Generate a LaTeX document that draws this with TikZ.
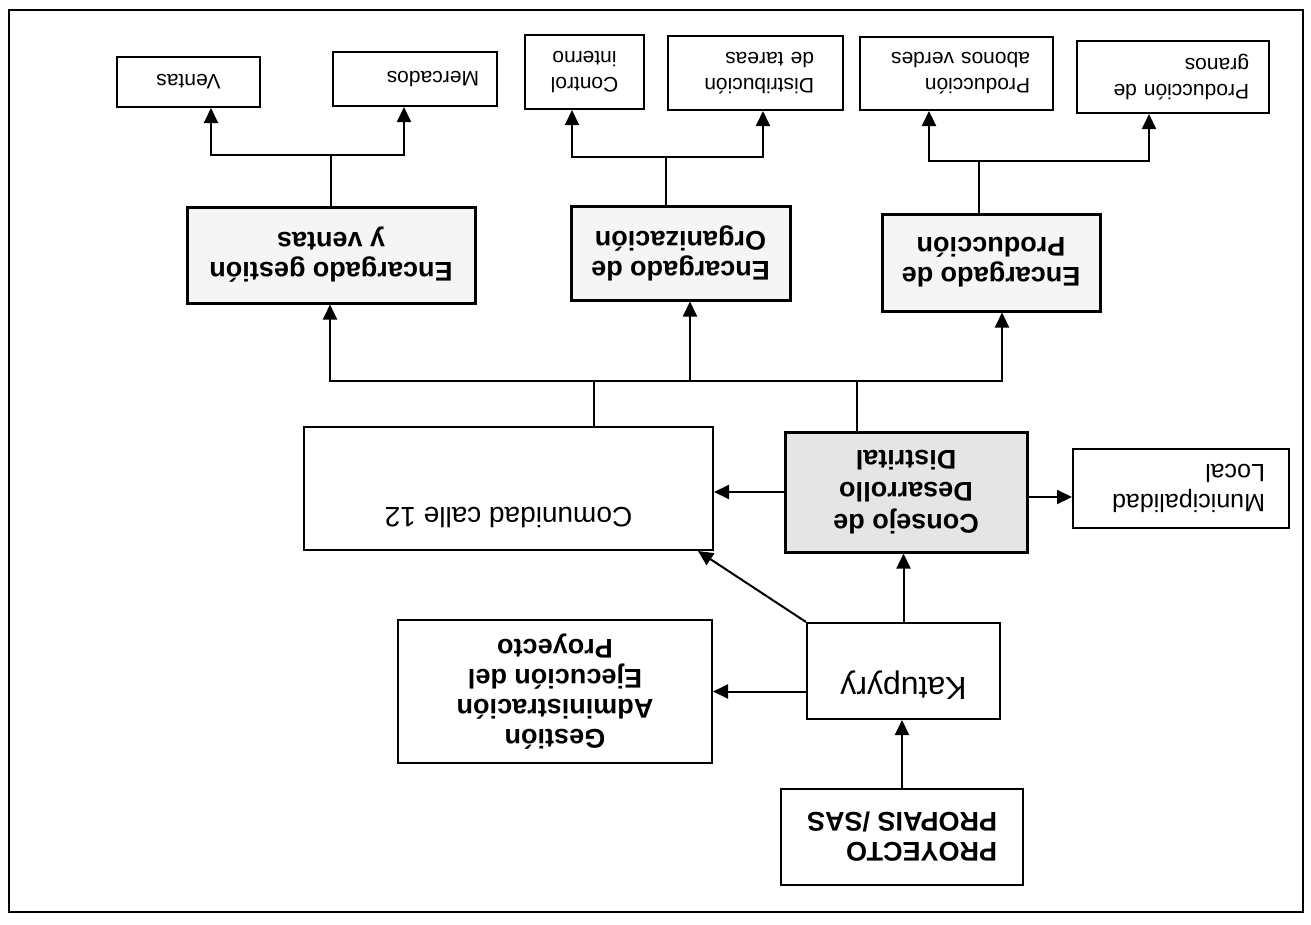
\documentclass[tikz,border=0pt]{standalone}
\usepackage{fontspec}
\setmainfont{Liberation Sans}
\usetikzlibrary{arrows.meta,calc}
\begin{document}
\begin{tikzpicture}[x=1pt,y=-1pt,
  box/.style={draw, line width=2pt, fill=white, inner sep=0pt},
  boldbox/.style={box, line width=3pt, fill=black!4},
  sz/.style 2 args={minimum width=#1pt, minimum height=#2pt},
  small/.style={font=\fontsize{21}{26}\selectfont},
  bigbold/.style={font=\bfseries\fontsize{27}{30}\selectfont},
  conn/.style={line width=2pt},
  arr/.style={conn, -{Triangle[length=15pt,width=14pt]}},
]
\useasboundingbox (0,0) rectangle (1311,924);
\draw[line width=2pt] (9,10) rectangle (1303,912);
\begin{scope}[rotate around={180:(655.5,462)}, transform shape]
% top level
\node[box, sz={242}{96}, bigbold, align=left] (proyecto) at (409,87) {PROYECTO\\PROPAIS /SAS};
\node[box, sz={193}{96}, font=\fontsize{32}{36}\selectfont, text height=22pt, text depth=34pt] (katupyry) at (407.5,253) {Katupyry};
\node[box, sz={314}{143}, bigbold, align=center] (gestion) at (756,232.5) {Gestión\\Administración\\Ejecución del\\Proyecto};
% middle
\node[boldbox, fill=black!10, sz={242}{120}, font=\bfseries\fontsize{27}{32}\selectfont, align=center] (consejo) at (405,432) {Consejo de\\Desarrollo\\Distrital};
\node[box, sz={409}{123}, font=\fontsize{28}{30}\selectfont, text height=20pt, text depth=57pt] (comunidad) at (802.5,435.5) {Comunidad calle 12};
\node[box, sz={216}{79}, font=\fontsize{25}{30}\selectfont, text width=168pt, align=left] (muni) at (130,435.5) {Municipalidad\\Local};
% encargados
\node[boldbox, sz={288}{96}, bigbold, align=center] (eg) at (980,669) {Encargado gestión\\y ventas};
\node[boldbox, sz={219}{94}, bigbold, align=center] (eo) at (630.5,671) {Encargado de\\Organización};
\node[boldbox, sz={218}{97}, bigbold, align=center] (ep) at (320,661.5) {Encargado de\\Producción};
% leaves
\node[box, sz={143}{50}, small] (ventas) at (1122.5,842) {Ventas};
\node[box, sz={164}{54}, small, text width=128pt, align=left] (mercados) at (896,845) {Mercados};
\node[box, sz={119}{74}, small, align=center] (control) at (726.5,852) {Control\\interno};
\node[box, sz={175}{74}, small, text width=117pt, align=left] (distrib) at (555.5,851) {Distribución\\de tareas};
\node[box, sz={193}{73}, small, text width=147pt, align=left] (abonos) at (354.5,850.5) {Producción\\abonos verdes};
\node[box, sz={192}{72}, small, text width=152pt, align=left] (granos) at (138,847) {Producción de\\granos};
% connectors
\draw[arr] (proyecto.south) -- (proyecto.south |- katupyry.north);
\draw[arr] (katupyry.east |- gestion.west) -- (gestion.west);
\draw[arr] (katupyry.south) -- (katupyry.south |- consejo.north);
\draw[arr] (katupyry.south east) -- ($(comunidad.north west)+(16,0)$);
\draw[arr] (consejo.east) -- (consejo.east -| comunidad.west);
\coordinate (cm) at ($(consejo.west)+(0,-5)$);
\draw[arr] (cm) -- (cm -| muni.east);
% bus to encargados
\coordinate (b1) at (717,543);
\coordinate (b2) at (454,543);
\coordinate (b3) at (981,543);
\coordinate (b4) at (621,543);
\coordinate (b5) at (309,543);
\draw[conn] (comunidad.south -| b1) -- (b1);
\draw[conn] (consejo.south -| b2) -- (b2);
\draw[arr] (b4) -- (b3) -- (b3 |- eg.north);
\draw[arr] (b4) -- (b5) -- (b5 |- ep.north);
\draw[arr] (b4) -- (b4 |- eo.north);
% eg children
\coordinate (g0) at (980,769);
\coordinate (g1) at (1100,769);
\coordinate (g2) at (907,769);
\draw[conn] (eg.south -| g0) -- (g0);
\draw[arr] (g0) -- (g1) -- (g1 |- ventas.north);
\draw[arr] (g0) -- (g2) -- (g2 |- mercados.north);
% eo children
\coordinate (o0) at (645,767);
\coordinate (o1) at (739,767);
\coordinate (o2) at (548,767);
\draw[conn] (eo.south -| o0) -- (o0);
\draw[arr] (o0) -- (o1) -- (o1 |- control.north);
\draw[arr] (o0) -- (o2) -- (o2 |- distrib.north);
% ep children
\coordinate (p0) at (332,763);
\coordinate (p1) at (382,763);
\coordinate (p2) at (162,763);
\draw[conn] (ep.south -| p0) -- (p0);
\draw[arr] (p0) -- (p1) -- (p1 |- abonos.north);
\draw[arr] (p0) -- (p2) -- (p2 |- granos.north);
\end{scope}
\end{tikzpicture}
\end{document}
